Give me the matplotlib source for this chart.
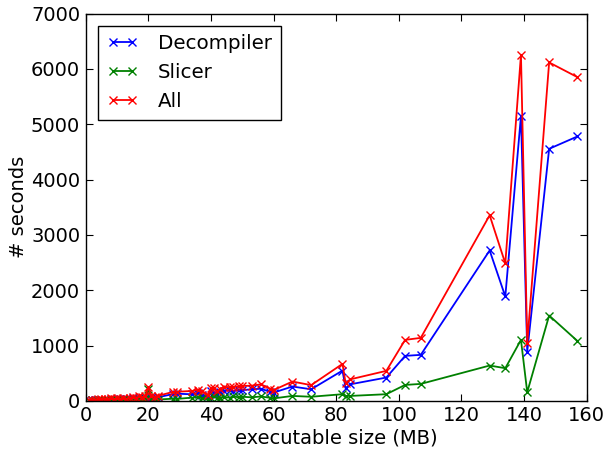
import matplotlib
matplotlib.use('Agg')
import matplotlib.pyplot as plt

size_mb = [1, 2, 3, 4, 5, 6, 7, 8, 9, 10, 11, 12, 13, 14, 15, 16, 17, 18, 19, 20,
           21, 22, 23, 28, 29, 34, 36, 37, 39, 40, 41, 42, 43, 44, 46, 47, 49, 50,
           53, 56, 59, 60, 66, 72, 82, 83, 84.5, 96, 102, 107, 129, 134, 139, 141,
           148, 157]
decompiler = [10, 15, 12, 20, 18, 25, 22, 30, 20, 35, 28, 40, 30, 35, 45, 40, 55, 50, 60, 37,
              60, 55, 65, 125, 130, 120, 140, 115, 80, 170, 150, 120, 160, 185, 190, 170, 200, 195,
              210, 220, 160, 150, 260, 210, 548, 229, 300, 422, 814, 832, 2719, 1887, 5153, 891,
              4556, 4779]
slicer = [5, 8, 6, 10, 8, 12, 10, 15, 8, 15, 12, 18, 10, 15, 20, 15, 25, 20, 30, 210,
          25, 20, 25, 40, 35, 60, 65, 55, 30, 60, 80, 50, 60, 65, 60, 80, 65, 75,
          65, 80, 55, 45, 90, 75, 121, 90, 90, 121, 289, 307, 639, 591, 1103, 157,
          1543, 1085]
total = [15, 23, 18, 30, 26, 37, 32, 45, 28, 50, 40, 58, 40, 50, 65, 55, 80, 70, 90, 247,
         85, 75, 90, 165, 165, 180, 205, 170, 110, 230, 230, 170, 220, 250, 250, 250, 265, 270,
         275, 300, 215, 195, 350, 285, 669, 319, 390, 543, 1103, 1139, 3355, 2485, 6256, 1045,
         6117, 5852]

plt.rcParams['font.family'] = 'DejaVu Sans'
fig = plt.figure(figsize=(6.08, 4.53), dpi=100)
ax = fig.add_axes([0.141, 0.115, 0.824, 0.855])

kw = dict(marker='x', markersize=6, markeredgewidth=1.0, linewidth=1.3)
ax.plot(size_mb, decompiler, color='blue', label='Decompiler', **kw)
ax.plot(size_mb, slicer, color='green', label='Slicer', **kw)
ax.plot(size_mb, total, color='red', label='All', **kw)

ax.set_xlim(0, 160)
ax.set_ylim(0, 7000)
ax.set_xticks(range(0, 161, 20))
ax.set_yticks(range(0, 7001, 1000))
ax.tick_params(direction='in', top=True, right=True, labelsize=14, length=5, pad=4)
ax.set_xlabel('executable size (MB)', fontsize=14, labelpad=2)
ax.set_ylabel('# seconds', fontsize=14, labelpad=2)
for s in ax.spines.values():
    s.set_linewidth(1.0)

leg = ax.legend(loc='upper left', numpoints=2, fontsize=14.3, fancybox=False,
                edgecolor='black', framealpha=1, borderaxespad=0.6,
                borderpad=0.45, handlelength=1.6, handletextpad=1.0,
                labelspacing=0.5)
leg.get_frame().set_linewidth(1.0)

fig.savefig('out.png', dpi=100)
